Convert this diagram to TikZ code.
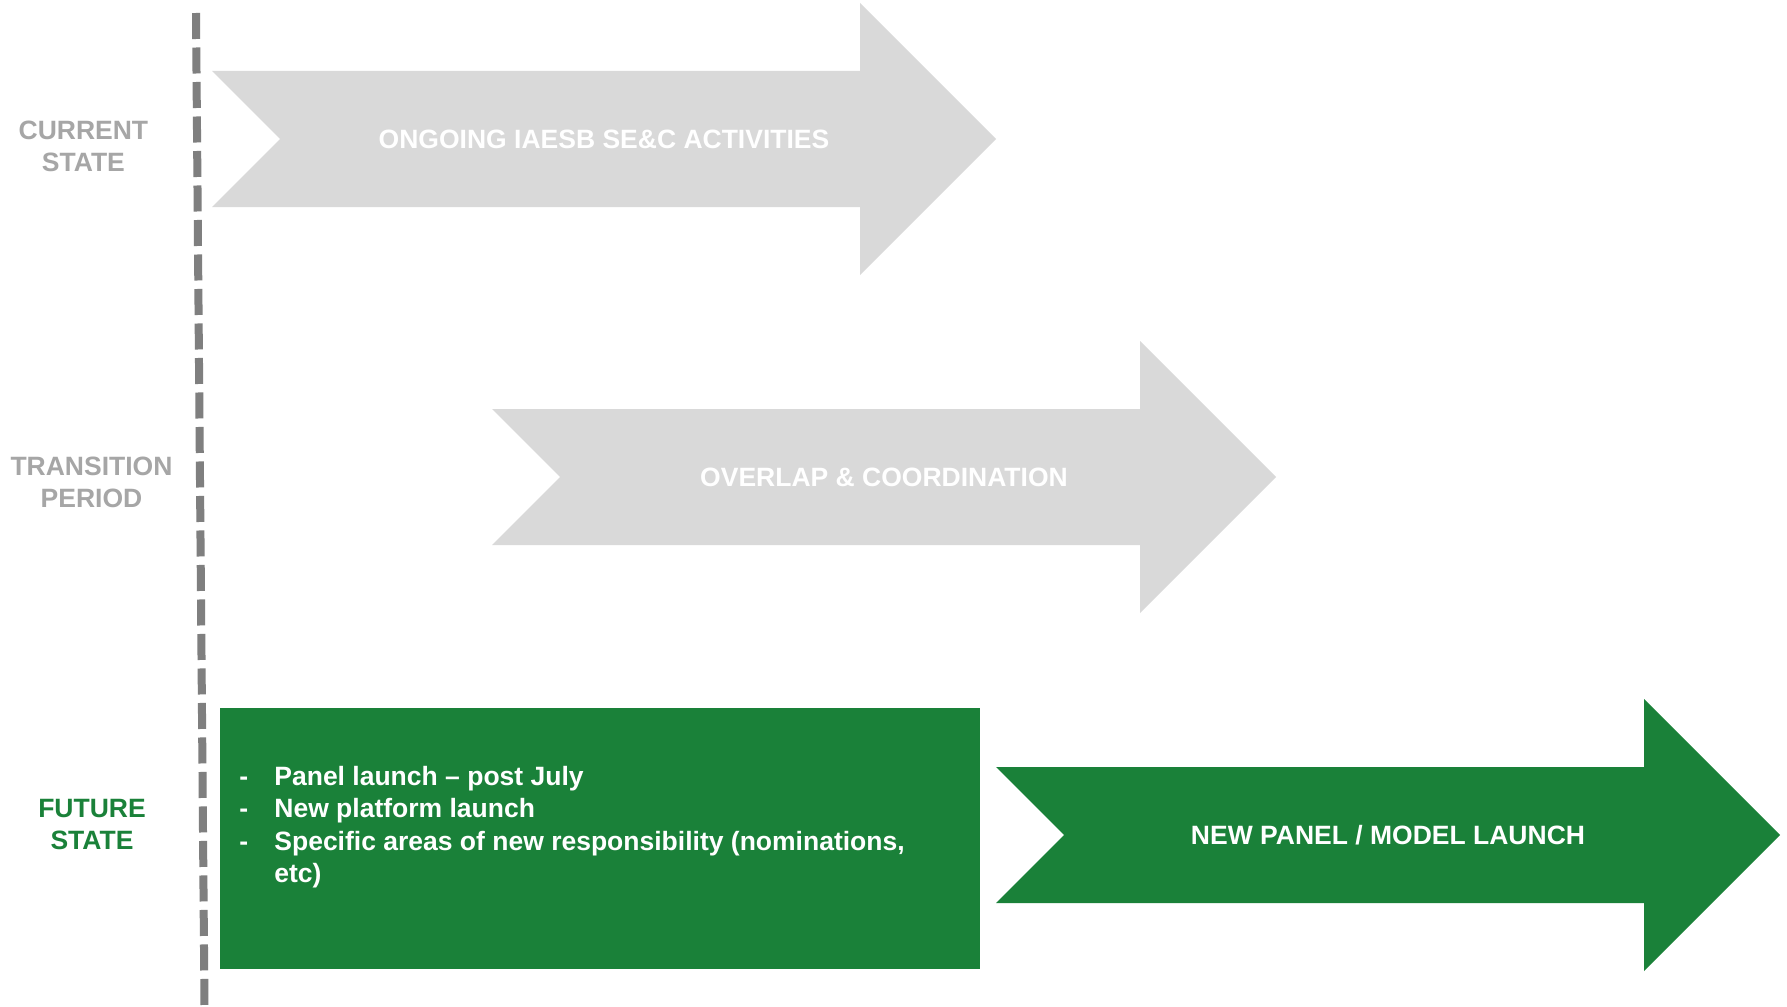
\documentclass[tikz,border=0pt]{standalone}
\usepackage{fontspec}
\setmainfont{Liberation Sans}
\definecolor{arrowgray}{HTML}{D9D9D9}
\definecolor{labelgray}{HTML}{A6A6A6}
\definecolor{dashgray}{HTML}{7F7F7F}
\definecolor{panelgreen}{HTML}{1A8139}
\begin{document}
\begin{tikzpicture}[x=0.5pt,y=-0.5pt,
  lbl/.style={inner sep=0pt, anchor=base, font=\fontsize{13.25}{16}\selectfont\bfseries},
  btxt/.style={inner sep=0pt, anchor=base west, text=white, font=\fontsize{13.25}{16}\selectfont\bfseries},
  atxt/.style={inner sep=0pt, anchor=base, text=white, font=\fontsize{13.25}{16}\selectfont\bfseries}]
\useasboundingbox (0,0) rectangle (1787,1006);
\fill[white] (0,0) rectangle (1787,1006);
% timeline divider
\coordinate (lt) at (196,13);
\coordinate (lb) at (204.5,1006);
\draw[dashgray, line width=4pt, dash pattern=on 13pt off 4.25pt] (lt) -- (lb);
% arrow 1
\fill[arrowgray] (212,71) -- (860,71) -- (860,3) -- (996,139) -- (860,275) -- (860,207) -- (212,207) -- (280,139) -- cycle;
% arrow 2
\fill[arrowgray] (492,409) -- (1140,409) -- (1140,341) -- (1276,477) -- (1140,613) -- (1140,545) -- (492,545) -- (560,477) -- cycle;
% green box
\fill[panelgreen] (220,708) rectangle (980,969);
% arrow 3
\fill[panelgreen] (996,767) -- (1644,767) -- (1644,699) -- (1780,835) -- (1644,971) -- (1644,903) -- (996,903) -- (1064,835) -- cycle;
% row labels
\node[lbl, text=labelgray] (cur) at (83.4,139.5) {\begin{tabular}[t]{@{}c@{}}CURRENT\\STATE\end{tabular}};
\node[lbl, text=labelgray] (tra) at (91.5,475) {\begin{tabular}[t]{@{}c@{}}TRANSITION\\PERIOD\end{tabular}};
\node[lbl, text=panelgreen] (fut) at (92,817.5) {\begin{tabular}[t]{@{}c@{}}FUTURE\\STATE\end{tabular}};
% arrow texts
\node[atxt] (a1) at (604,148.5) {ONGOING IAESB SE\&C ACTIVITIES};
\node[atxt] (a2) at (884,486.5) {OVERLAP \& COORDINATION};
\node[atxt] (a3) at (1388,844.5) {NEW PANEL / MODEL LAUNCH};
% bullets
\node[btxt] (d1) at (239,785) {-};
\node[btxt] (d2) at (239,817.5) {-};
\node[btxt] (d3) at (239,850) {-};
\node[btxt] (b1) at (274,785) {Panel launch – post July};
\node[btxt] (b2) at (274,817.5) {New platform launch};
\node[btxt] (b3) at (274,850) {Specific areas of new responsibility (nominations,};
\node[btxt] (b4) at (274,882.5) {etc)};
\end{tikzpicture}
\end{document}
